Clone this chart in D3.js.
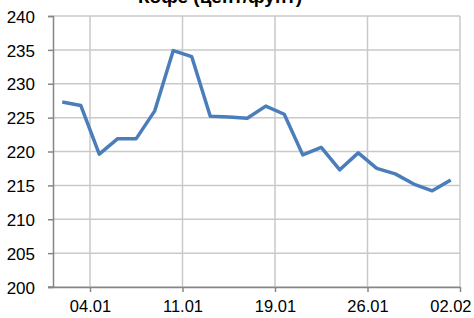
<!DOCTYPE html>
<html>
<head>
<meta charset="utf-8">
<script src="https://cdn.jsdelivr.net/npm/d3@7"></script>
<style>
  body { margin: 0; background: #fff; }
  svg { display: block; }
</style>
</head>
<body>
<div id="chart"></div>
<script>
// Coffee price, cents per pound, daily (22 trading days)
const dates = [
  '31.12', '03.01', '04.01', '05.01', '06.01', '07.01', '10.01', '11.01',
  '12.01', '13.01', '14.01', '17.01', '18.01', '19.01', '20.01', '21.01',
  '24.01', '25.01', '26.01', '27.01', '28.01', '31.01'
]
const prices = [
  227.3, 226.8, 219.6, 221.9, 221.9, 226.0, 234.9, 234.0,
  225.2, 225.1, 224.9, 226.7, 225.5, 219.5, 220.6, 217.3,
  219.8, 217.5, 216.7, 215.2, 214.2, 215.8
]
// labels sit on category boundaries, every 5 categories
const tickIndex = [2, 7, 12, 17, 22]
const tickLabels = ['04.01', '11.01', '19.01', '26.01', '02.02']
const yTicks = [200, 205, 210, 215, 220, 225, 230, 235, 240]
const title = 'Кофе (цент/фунт)'

const width = 474
const height = 318
const margin = { top: 16, right: 14, bottom: 31, left: 53 }

const svg = d3
  .select('#chart')
  .append('svg')
  .attr('width', width)
  .attr('height', height)
  .style('font-family', '"Liberation Sans", Arial, sans-serif')

const x = d3
  .scaleLinear()
  .domain([0, dates.length])
  .range([margin.left, width - margin.right])

const y = d3
  .scaleLinear()
  .domain([200, 240])
  .range([height - margin.bottom, margin.top])

// Gridlines
const grid = svg.append('g').attr('class', 'grid')
grid
  .selectAll('line.h')
  .data(yTicks)
  .enter()
  .append('line')
  .attr('class', 'h')
  .attr('x1', x(0))
  .attr('x2', x(dates.length))
  .attr('y1', (d) => y(d))
  .attr('y2', (d) => y(d))
  .attr('stroke', '#c9c9c9')
  .attr('stroke-width', 1.5)

grid
  .selectAll('line.v')
  .data(tickIndex)
  .enter()
  .append('line')
  .attr('class', 'v')
  .attr('x1', (d) => x(d))
  .attr('x2', (d) => x(d))
  .attr('y1', y(240))
  .attr('y2', y(200))
  .attr('stroke', '#c9c9c9')
  .attr('stroke-width', 1.5)

// Y axis
const yAxis = svg
  .append('g')
  .attr('transform', `translate(${margin.left},0)`)
  .call(d3.axisLeft(y).tickValues(yTicks).tickSize(5).tickPadding(13))
yAxis.select('.domain').attr('stroke', '#868686').attr('stroke-width', 1.5)
yAxis.selectAll('.tick line').attr('stroke', '#868686').attr('stroke-width', 1.5)
yAxis
  .selectAll('.tick text')
  .attr('font-size', '17px')
  .attr('fill', '#000')
  .attr('dy', '0.36em')

// X axis
const xAxis = svg
  .append('g')
  .attr('transform', `translate(0,${height - margin.bottom})`)
  .call(
    d3
      .axisBottom(x)
      .tickValues(tickIndex)
      .tickFormat((d, i) => tickLabels[i])
      .tickSize(5)
      .tickSizeOuter(0)
      .tickPadding(8),
  )
xAxis.select('.domain').attr('stroke', '#868686').attr('stroke-width', 1.5)
xAxis.selectAll('.tick line').attr('stroke', '#868686').attr('stroke-width', 1.5)
xAxis.selectAll('.tick text').attr('font-size', '16.5px').attr('fill', '#000')
// last label pulled inside the right edge, like the original
xAxis
  .selectAll('.tick text')
  .filter((d) => d === tickIndex[tickIndex.length - 1])
  .attr('text-anchor', 'end')
  .attr('dx', 11)

// Short stub of the x axis line to the left of the y axis
svg
  .append('line')
  .attr('x1', margin.left - 5)
  .attr('x2', margin.left)
  .attr('y1', y(200))
  .attr('y2', y(200))
  .attr('stroke', '#868686')
  .attr('stroke-width', 1.5)

// Price line
const line = d3
  .line()
  .x((d, i) => x(i + 0.5))
  .y((d) => y(d))

svg
  .append('path')
  .datum(prices)
  .attr('d', line)
  .attr('fill', 'none')
  .attr('stroke', '#4a7ebb')
  .attr('stroke-width', 3.5)
  .attr('stroke-linejoin', 'round')

// Title (partly clipped off the top, as in the reference)
svg
  .append('text')
  .attr('x', 220)
  .attr('y', 3)
  .attr('text-anchor', 'middle')
  .attr('font-size', '19px')
  .attr('font-weight', 'bold')
  .attr('fill', '#000')
  .text(title)
</script>
</body>
</html>
